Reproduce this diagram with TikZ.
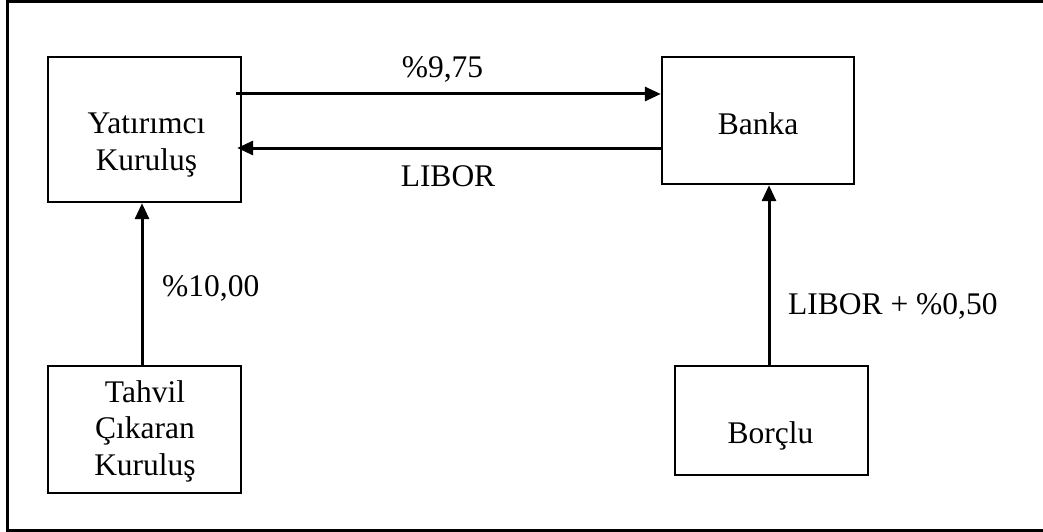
\documentclass[tikz,border=0pt]{standalone}
\usepackage{fontspec}
\setmainfont{Liberation Serif}
\usetikzlibrary{arrows.meta}
\begin{document}
\begin{tikzpicture}[x=1pt,y=-1pt,
  box/.style={draw,line width=2.4pt,minimum width=193pt,inner sep=0pt},
  txt/.style={font=\fontsize{31.5}{36.5}\selectfont,align=center,inner sep=0pt},
  lbl/.style={font=\fontsize{31.5}{36.5}\selectfont,inner sep=0pt},
  flow/.style={line width=3pt,-{Triangle[length=16pt,width=14pt]}},
  frame/.style={line width=3pt}]
\useasboundingbox (0,0) rectangle (1043,532);
% outer frame (open on the right)
\draw[frame] (1045,1.5) -- (7.5,1.5) -- (7.5,530) -- (1045,530);

% boxes
\node[box,minimum height=145pt] (yat) at (144.5,129.5) {};
\node[box,minimum width=192pt,minimum height=127pt] (bank) at (758,120.5) {};
\node[box,minimum height=127pt] (tahvil) at (144.5,429.5) {};
\node[box,minimum height=109pt] (borc) at (771.5,420.5) {};

% box texts
\node[txt] (yatT) at (146.5,145) {Yatırımcı\\Kuruluş};
\node[txt,anchor=base] (bankT) at (758,135) {Banka};
\node[txt] (tahvilT) at (145,431) {Tahvil\\Çıkaran\\Kuruluş};
\node[txt,anchor=base] (borcT) at (770.5,443) {Borçlu};

% flows
\coordinate (a1) at ([xshift=-6pt,yshift=35.5pt]yat.east);
\draw[flow] (a1) -- (a1 -| bank.west);
\coordinate (a2) at ([yshift=-27.5pt]bank.west);
\coordinate (a2e) at (a2 -| yat.east);
\draw[flow] (a2) -- ([xshift=-5pt]a2e);
\coordinate (a3) at ([xshift=-2.5pt]tahvil.north);
\draw[flow] (a3) -- (a3 |- yat.south);
\coordinate (a4) at ([xshift=-2.5pt]borc.north);
\draw[flow] (a4) -- (a4 |- bank.south);

% rate labels
\node[lbl,anchor=base] (r975) at (442.5,78) {\%9,75};
\node[lbl,anchor=base] (rlib) at (448,186.5) {LIBOR};
\node[lbl,anchor=base west] (r10) at (162,296) {\%10,00};
\node[lbl,anchor=base west] (rlp) at (788,314) {LIBOR + \%0,50};
\end{tikzpicture}
\end{document}
